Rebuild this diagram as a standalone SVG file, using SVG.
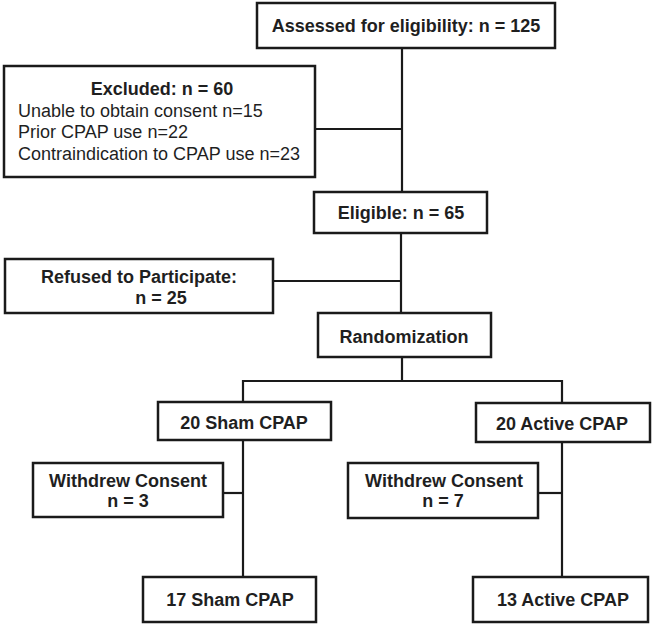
<svg xmlns="http://www.w3.org/2000/svg" width="653" height="624" viewBox="0 0 653 624">
<style>
  .box { fill: #ffffff; stroke: #1a1a1a; stroke-width: 2.5; }
  .line { fill: none; stroke: #1a1a1a; stroke-width: 2.2; }
  .t { font-family: "Liberation Sans", Arial, sans-serif; font-size: 18px; fill: #1f1f1f; }
  .b { font-weight: bold; }
  .c { text-anchor: middle; }
</style>
<rect width="653" height="624" fill="#ffffff"/>
<g id="connectors">
  <line class="line" x1="402" y1="48" x2="402" y2="192"/>
  <line class="line" x1="316" y1="129" x2="402" y2="129"/>
  <line class="line" x1="401" y1="233" x2="401" y2="313"/>
  <line class="line" x1="273" y1="281" x2="401" y2="281"/>
  <line class="line" x1="402" y1="357" x2="402" y2="381"/>
  <polyline class="line" points="243,402 243,381 562,381 562,403"/>
  <line class="line" x1="243" y1="440" x2="243" y2="577"/>
  <line class="line" x1="223" y1="493" x2="243" y2="493"/>
  <line class="line" x1="562" y1="442" x2="562" y2="577"/>
  <line class="line" x1="538" y1="493" x2="562" y2="493"/>
</g>
<g id="assessed">
  <rect class="box" x="257" y="3" width="298" height="45"/>
  <text class="t b c" x="406" y="32">Assessed for eligibility:  n = 125</text>
</g>
<g id="excluded">
  <rect class="box" x="4" y="66" width="311" height="111"/>
  <text class="t b c" x="162" y="95">Excluded: n = 60</text>
  <text class="t" x="18" y="117">Unable to obtain consent  n=15</text>
  <text class="t" x="18" y="138">Prior CPAP use n=22</text>
  <text class="t" x="18" y="160">Contraindication to CPAP use n=23</text>
</g>
<g id="eligible">
  <rect class="box" x="314" y="192" width="173" height="41"/>
  <text class="t b c" x="401" y="219">Eligible: n = 65</text>
</g>
<g id="refused">
  <rect class="box" x="5" y="259" width="268" height="54"/>
  <text class="t b c" x="139" y="283">Refused to Participate:</text>
  <text class="t b c" x="161" y="304">n = 25</text>
</g>
<g id="randomization">
  <rect class="box" x="318" y="313" width="173" height="44"/>
  <text class="t b c" x="404" y="343">Randomization</text>
</g>
<g id="sham20">
  <rect class="box" x="158" y="402" width="173" height="38"/>
  <text class="t b c" x="244" y="429">20 Sham CPAP</text>
</g>
<g id="active20">
  <rect class="box" x="476" y="403" width="174" height="39"/>
  <text class="t b c" x="562" y="430">20 Active CPAP</text>
</g>
<g id="withdrew-sham">
  <rect class="box" x="33" y="463" width="190" height="54"/>
  <text class="t b c" x="128" y="487">Withdrew Consent</text>
  <text class="t b c" x="128" y="507">n = 3</text>
</g>
<g id="withdrew-active">
  <rect class="box" x="348" y="463" width="190" height="55"/>
  <text class="t b c" x="444" y="487">Withdrew Consent</text>
  <text class="t b c" x="443" y="507">n = 7</text>
</g>
<g id="sham17">
  <rect class="box" x="143" y="577" width="173" height="45"/>
  <text class="t b c" x="230" y="606">17 Sham CPAP</text>
</g>
<g id="active13">
  <rect class="box" x="473" y="577" width="175" height="45"/>
  <text class="t b c" x="563" y="606">13 Active CPAP</text>
</g>
</svg>
